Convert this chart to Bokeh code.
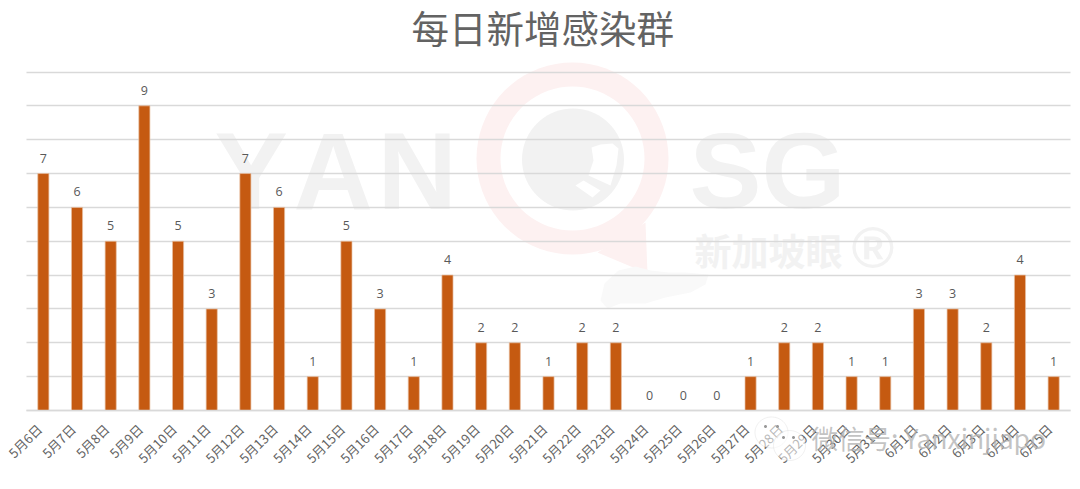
import math
from bokeh.plotting import figure
from bokeh.embed import file_html
from bokeh.resources import INLINE
from bokeh.models import ColumnDataSource, FixedTicker, Label, PolyAnnotation, Range1d
from bokeh.core.properties import value

dates = ["5月6日","5月7日","5月8日","5月9日","5月10日","5月11日","5月12日","5月13日","5月14日","5月15日",
         "5月16日","5月17日","5月18日","5月19日","5月20日","5月21日","5月22日","5月23日","5月24日","5月25日",
         "5月26日","5月27日","5月28日","5月29日","5月30日","5月31日","6月1日","6月2日","6月3日","6月4日","6月5日"]
clusters = [7,6,5,9,5,3,7,6,1,5,3,1,4,2,2,1,2,2,0,0,0,1,2,2,1,1,3,3,2,4,1]
y_ticks = [0,1,2,3,4,5,6,7,8,9,10]
title_text = "每日新增感染群"

FONT = "Noto Sans CJK SC"
W, H = 1080, 489
LEFT, RIGHT, TOP, BOTTOM = 26, 1070, 71.5, 410
step_x = (RIGHT - LEFT) / len(dates)
step_y = (BOTTOM - TOP) / (len(y_ticks) - 1)
idx = list(range(len(dates)))

# The frame fills the whole page, so the title and overlays are not clipped;
# the ranges put the plotting area where the reference has it.
p = figure(width=W, height=H,
           x_range=Range1d(-0.5 - LEFT / step_x, len(dates) - 0.5 + (W - RIGHT) / step_x),
           y_range=Range1d(-(H - BOTTOM) / step_y, BOTTOM / step_y),
           output_backend="svg", toolbar_location=None,
           min_border=0, min_border_left=0, min_border_right=0, min_border_top=0, min_border_bottom=0,
           outline_line_color=None, background_fill_color="white", border_fill_color="white")

def sx(px): return px
def sy(py): return H - py

def poly(pts, color, alpha=1.0, line=None, lw=1, level="image"):
    p.add_layout(PolyAnnotation(xs=[sx(a) for a, b in pts], ys=[sy(b) for a, b in pts],
                                xs_units="screen", ys_units="screen",
                                fill_color=color, fill_alpha=alpha,
                                line_color=line, line_width=lw, level=level, editable=False))

def ell(cx, cy, r, ry=None, n=72):
    ry = ry or r
    return [(cx + r*math.cos(2*math.pi*i/n), cy + ry*math.sin(2*math.pi*i/n)) for i in range(n)]

def label(txt, px, py, size, color, weight="normal", font=FONT, align="left", level="image", alpha=1.0):
    p.add_layout(Label(x=sx(px), y=sy(py), x_units="screen", y_units="screen", text=txt,
                       text_font=font, text_font_size=f"{size}px", text_font_style=weight,
                       text_color=color, text_alpha=alpha, text_align=align, text_baseline="middle", level=level))

# Watermark: magnifier logo
poly([(597,252),(645,222),(647,273)], "#fdf1f1")
poly(ell(572,158,96), "#fdf1f1")
poly(ell(572,158,72), "#ffffff")
poly(ell(572.5,159,51), "#f2f2f2")
poly([(591,147),(600,144),(612,143),(618,148),(616,165),(610,185),(588,175),(593,160)], "#ffffff")
poly([(575,185),(583,180),(600,190),(592,197)], "#ffffff")
# island
poly([(600,300),(604,283),(618,270),(635,266),(650,270),(668,272),(685,272),(708,274),(705,284),(690,292),
      (665,297),(645,303),(620,303),(607,308)], "#f9f9f9")
for letter, lx in zip("YAN", [214, 293, 377]):
    label(letter, lx, 170, 110, "#f2f2f2", "bold", "Liberation Sans")
label("SG", 689, 170, 108, "#f2f2f2", "bold", "Liberation Sans")
label("新加坡眼", 694, 249, 37, "#f2f2f2", "bold")
label("®", 851, 247, 58, "#f2f2f2", "bold", "Liberation Sans")

label(title_text, 411, 26, 37.5, "#636363", level="annotation")

src = ColumnDataSource(dict(i=idx, v=clusters, t=[str(v) for v in clusters]))
p.vbar(x="i", top="v", bottom=0, width=0.33, source=src, fill_color="#C55A11", line_color="#e8c0a4", line_width=0.7)
p.text(x="i", y="v", text="t", source=src, text_font=value("Open Sans"), text_font_size="12.5px",
       text_color="#595959", text_align="center", text_baseline="bottom", y_offset=-11)

p.yaxis.visible = False
p.ygrid.ticker = FixedTicker(ticks=y_ticks)
p.ygrid.grid_line_color = "#d9d9d9"
p.ygrid.grid_line_width = 1.5
p.ygrid.cross_bounds = (-0.5, len(dates) - 0.5)
p.xgrid.visible = False

LABEL_SHIFT = 0.12   # rotated labels end slightly left of the bar centre
label_ticks = {round(i - LABEL_SHIFT, 2): d for i, d in zip(idx, dates)}
ax = p.xaxis[0]
ax.fixed_location = 0
ax.bounds = (-0.5, len(dates) - 0.5)
ax.ticker = FixedTicker(ticks=list(label_ticks))
ax.major_label_overrides = label_ticks
ax.axis_line_color = "#d9d9d9"
ax.axis_line_width = 1.5
ax.major_tick_line_color = None
ax.minor_tick_line_color = None
ax.major_label_orientation = math.pi / 4
ax.major_label_standoff = 10
ax.major_label_text_font = FONT
ax.major_label_text_font_size = "13px"
ax.major_label_text_color = "#636363"

# WeChat account overlay
for cx, cy, r, ry in [(771,432,16.5,15.5),(789,445,16,15)]:
    poly(ell(cx,cy,r,ry), "#ffffff", 0.55, "#cccccc", 1, level="overlay")
for ex, ey in [(765,426),(777,426),(783,437),(793,437)]:
    poly(ell(ex,ey,1.5), "#999999", 1, level="overlay")
label("微信号: Yanxinjiapo", 811, 437, 26.5, "#b0b0b0", level="overlay", font=FONT, alpha=0.75)

open("out.html", "w").write(file_html(p, INLINE))
